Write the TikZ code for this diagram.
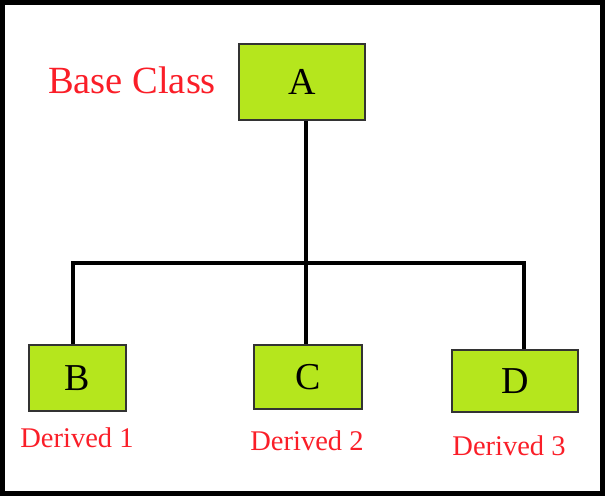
\documentclass[tikz,border=0pt]{standalone}
\usepackage{fontspec}
\setmainfont{Liberation Serif}
\definecolor{boxgreen}{RGB}{181,230,29}
\definecolor{lblred}{RGB}{250,30,40}
\begin{document}
\begin{tikzpicture}[x=1pt,y=-1pt,
  classbox/.style={draw=black!80, line width=2pt, fill=boxgreen, inner sep=0pt, font=\fontsize{38}{40}\selectfont},
  lbl/.style={text=lblred, inner sep=0pt},
  conn/.style={line width=4pt, line join=miter}]
\useasboundingbox (0,0) rectangle (607,496);
\draw[line width=5pt] (2.5,2.5) rectangle (602,493.5);
\node[classbox, minimum width=126pt, minimum height=76pt] (A) at (302,82) {A};
\node[classbox, minimum width=97pt, minimum height=66pt] (B) at (77.5,378) {B};
\node[classbox, minimum width=108pt, minimum height=64pt] (C) at (308,377) {C};
\node[classbox, minimum width=126pt, minimum height=62pt] (D) at (515,381) {D};
\node[lbl, font=\fontsize{38.5}{40}\selectfont] (base) at (132,80) {Base Class};
\node[lbl, font=\fontsize{28.5}{30}\selectfont] (d1) at (77,438) {Derived 1};
\node[lbl, font=\fontsize{28.5}{30}\selectfont] (d2) at (307,441) {Derived 2};
\node[lbl, font=\fontsize{28.5}{30}\selectfont] (d3) at (509,446) {Derived 3};
\coordinate (j) at (306,263);
\coordinate (l) at (73,263);
\coordinate (r) at (524,263);
\draw[conn] (A.south -| j) -- (j);
\draw[conn] (B.north -| l) -- (l) -- (r) -- (D.north -| r);
\draw[conn] (j) -- (C.north -| j);
\end{tikzpicture}
\end{document}
